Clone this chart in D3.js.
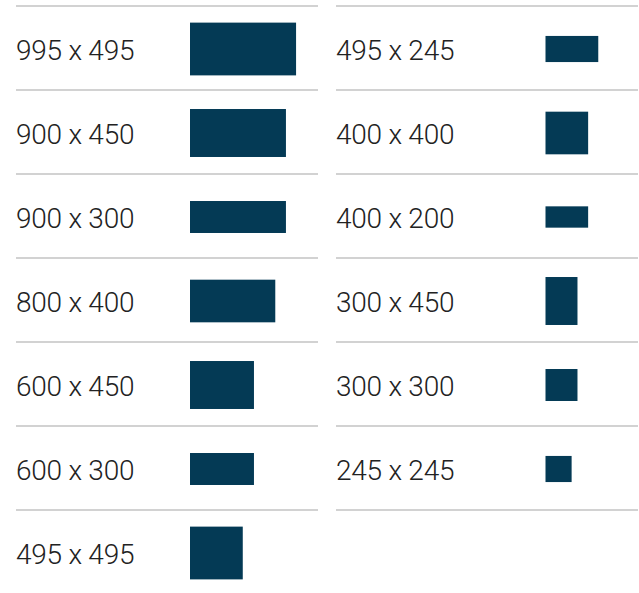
<!DOCTYPE html>
<html>
<head>
<meta charset="utf-8">
<script src="https://cdn.jsdelivr.net/npm/d3@7"></script>
<style>
  html, body { margin: 0; padding: 0; background: #fff; }
  svg { display: block; }
</style>
</head>
<body>
<svg id="chart" width="639" height="593"></svg>
<script>
// Data
const leftWidths  = [995, 900, 900, 800, 600, 600, 495];
const leftHeights = [495, 450, 300, 400, 450, 300, 495];
const rightWidths  = [495, 400, 400, 300, 300, 245];
const rightHeights = [245, 400, 200, 450, 300, 245];

const svg = d3.select("#chart");
const rowH = 84;
const top0 = 6;
const size = d3.scaleLinear().domain([0, 1000]).range([0, 106.6]);

const columns = [
  { w: leftWidths,  h: leftHeights,  x0: 16,  x1: 318, rectX: 190 },
  { w: rightWidths, h: rightHeights, x0: 336, x1: 638, rectX: 545.5 }
];

columns.forEach(col => {
  const n = col.w.length;
  const yRow = d3.scaleLinear().domain([0, n]).range([top0, top0 + n * rowH]);
  const g = svg.append("g");
  g.selectAll("line").data(d3.range(n + 1)).join("line")
    .attr("x1", col.x0).attr("x2", col.x1)
    .attr("y1", i => yRow(i)).attr("y2", i => yRow(i))
    .attr("stroke", "#a6a6a6").attr("stroke-width", 1.2);
  const rows = col.w.map((w, i) => ({ w, h: col.h[i], i }));
  g.selectAll("text").data(rows).join("text")
    .attr("x", col.x0)
    .attr("y", d => yRow(d.i) + rowH / 2 + 12)
    .attr("font-family", "Roboto, 'DejaVu Sans', sans-serif")
    .attr("font-weight", 300)
    .attr("font-size", 28)
    .attr("letter-spacing", -0.25)
    .attr("fill", "#222")
    .text(d => `${d.w} x ${d.h}`);
  g.selectAll("rect").data(rows).join("rect")
    .attr("x", col.rectX)
    .attr("y", d => yRow(d.i) + rowH / 2 + 1 - size(d.h) / 2)
    .attr("width", d => size(d.w))
    .attr("height", d => size(d.h))
    .attr("fill", "#043a55");
});
</script>
</body>
</html>
